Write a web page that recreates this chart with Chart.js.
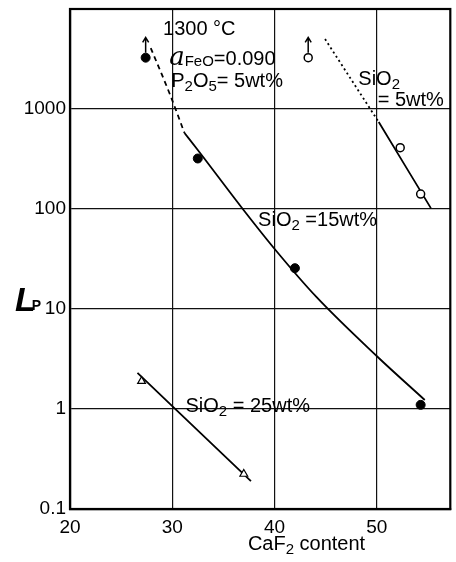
<!DOCTYPE html>
<html lang="en">
<head>
<meta charset="UTF-8">
<title>L_P vs CaF2 content</title>
<script src="https://cdn.jsdelivr.net/npm/chart.js@4.4.0/dist/chart.umd.min.js"></script>
<style>
  body { margin: 0; background: #fff; }
  canvas { display: block; }
</style>
</head>
<body>
<canvas id="lp" width="456" height="562"></canvas>
<script>
// axis ticks
const xTicks = [20, 30, 40, 50];
const yTicks = [0.1, 1, 10, 100, 1000];

// SiO2 = 15 wt% (filled circles)
const s15X = [27.4, 32.5, 42.0, 54.3];
const s15Y = [3260, 320, 25.6, 1.1];
const s15DashX = [27.9, 29.8, 31.2];
const s15DashY = [4070, 1380, 575];
const s15CurveX = [31.2, 32.5, 36.9, 40.1, 44.1, 50.1, 54.7];
const s15CurveY = [575, 389, 100, 38.9, 13.2, 3.31, 1.23];

// SiO2 = 5 wt% (open circles)
const s5X = [43.3, 52.3, 54.3];
const s5Y = [3260, 410, 141];
const s5DotX = [44.95, 50.2];
const s5DotY = [5000, 740];
const s5LineX = [50.2, 55.3];
const s5LineY = [740, 102];

// SiO2 = 25 wt% (open triangles)
const s25X = [27.0, 37.0];
const s25Y = [1.9, 0.224];
const s25LineX = [26.6, 37.7];
const s25LineY = [2.3, 0.19];

// "greater than" arrows above two points
const arrowX = [27.4, 43.3];
const arrowFrom = [3260, 3260];
const arrowTo = [5200, 5200];

const FACE = '"Liberation Sans", Arial, sans-serif';

const pts = (xs, ys) => xs.map((x, i) => ({ x: x, y: ys[i] }));

function lineSet(xs, ys, dash) {
  return {
    data: pts(xs, ys),
    showLine: true,
    borderColor: '#000',
    borderWidth: 1.8,
    borderDash: dash || [],
    pointRadius: 0,
    cubicInterpolationMode: 'monotone',
    order: 2
  };
}

function drawRuns(ctx, x, y, runs) {
  runs.forEach(([t, k]) => {
    let font = '20px ' + FACE, dy = 0;
    if (k === 's') { font = '15px ' + FACE; dy = 4; }
    if (k === 'f') { font = '15px ' + FACE; dy = 1; }
    if (k === 'a') { font = 'italic 26px "DejaVu Serif", serif'; }
    ctx.font = font;
    ctx.fillText(t, x, y + dy);
    x += ctx.measureText(t).width;
  });
}

// labels: anchored in data space (x value, y value at baseline)
const notes = [
  { x: 29.1, y: 5500, runs: [['1300 °C']] },
  { x: 29.7, y: 2750, runs: [['a', 'a'], ['FeO', 'f'], ['=0.090']] },
  { x: 29.9, y: 1660, runs: [['P'], ['2', 's'], ['O'], ['5', 's'], ['= 5wt%']] },
  { x: 48.2, y: 1740, runs: [['SiO'], ['2', 's']] },
  { x: 50.1, y: 1070, runs: [['= 5wt%']] },
  { x: 38.4, y: 67.6, runs: [['SiO'], ['2', 's'], [' =15wt%']] },
  { x: 31.3, y: 0.93, runs: [['SiO'], ['2', 's'], [' = 25wt%']] }
];

const extras = {
  id: 'extras',
  afterDraw(chart) {
    const ctx = chart.ctx, a = chart.chartArea;
    const xs = chart.scales.x, ys = chart.scales.y;
    ctx.save();
    // frame
    ctx.strokeStyle = '#000';
    ctx.lineWidth = 2.2;
    ctx.strokeRect(a.left, a.top, a.right - a.left, a.bottom - a.top);

    // arrows
    ctx.lineWidth = 1.5;
    arrowX.forEach((v, i) => {
      const px = xs.getPixelForValue(v);
      const y0 = ys.getPixelForValue(arrowFrom[i]) - 5;
      const y1 = ys.getPixelForValue(arrowTo[i]);
      ctx.beginPath();
      ctx.moveTo(px, y0);
      ctx.lineTo(px, y1);
      ctx.moveTo(px - 3, y1 + 5);
      ctx.lineTo(px, y1);
      ctx.lineTo(px + 3, y1 + 5);
      ctx.stroke();
    });

    // annotations
    ctx.fillStyle = '#000';
    ctx.textBaseline = 'alphabetic';
    ctx.textAlign = 'left';
    notes.forEach(n => {
      drawRuns(ctx, xs.getPixelForValue(n.x), ys.getPixelForValue(n.y), n.runs);
    });

    // x title
    drawRuns(ctx, xs.getPixelForValue(37.4), a.bottom + 41,
      [['CaF'], ['2', 's'], [' content']]);

    // y title
    const ly = ys.getPixelForValue(9.5);
    ctx.font = 'bold italic 34px ' + FACE;
    ctx.fillText('L', a.left - 55, ly);
    const lw = ctx.measureText('L').width;
    ctx.font = 'bold 14px ' + FACE;
    ctx.fillText('P', a.left - 55 + lw - 4, ly - 1);
    ctx.restore();
  }
};

new Chart(document.getElementById('lp'), {
  type: 'scatter',
  data: {
    datasets: [
      { data: pts(s15X, s15Y), pointStyle: 'circle', pointRadius: 4.5,
        backgroundColor: '#000', borderColor: '#000', borderWidth: 1, order: 0 },
      { data: pts(s5X, s5Y), pointStyle: 'circle', pointRadius: 4,
        backgroundColor: '#fff', borderColor: '#000', borderWidth: 1.5, order: 0 },
      { data: pts(s25X, s25Y), pointStyle: 'triangle', pointRadius: 4.5,
        backgroundColor: '#fff', borderColor: '#000', borderWidth: 1.2, order: 0 },
      lineSet(s15DashX, s15DashY, [5, 4]),
      lineSet(s15CurveX, s15CurveY),
      lineSet(s5DotX, s5DotY, [2, 3]),
      lineSet(s5LineX, s5LineY),
      lineSet(s25LineX, s25LineY)
    ]
  },
  options: {
    responsive: false,
    animation: false,
    layout: { padding: { top: 9, right: 3, left: 0, bottom: 0 } },
    plugins: { legend: { display: false }, tooltip: { enabled: false } },
    scales: {
      x: {
        type: 'linear',
        min: 20, max: 57.2,
        afterBuildTicks: s => { s.ticks = xTicks.map(v => ({ value: v })); },
        afterFit: s => { s.height = 53; s.paddingLeft = 0; s.paddingRight = 0; },
        grid: { color: '#111', lineWidth: 1.2, drawTicks: false },
        border: { color: '#000', width: 2.2 },
        ticks: { color: '#000', padding: 7, maxRotation: 0,
                 font: { family: FACE, size: 19 } }
      },
      y: {
        type: 'logarithmic',
        min: 0.1, max: 10000,
        afterBuildTicks: s => { s.ticks = yTicks.map(v => ({ value: v })); },
        afterFit: s => { s.width = 70; s.paddingTop = 0; s.paddingBottom = 0; },
        grid: { color: '#111', lineWidth: 1.2, drawTicks: false },
        border: { color: '#000', width: 2.2 },
        ticks: { color: '#000', padding: 4,
                 font: { family: FACE, size: 19 },
                 callback: v => String(v) }
      }
    }
  },
  plugins: [extras]
});
</script>
</body>
</html>
